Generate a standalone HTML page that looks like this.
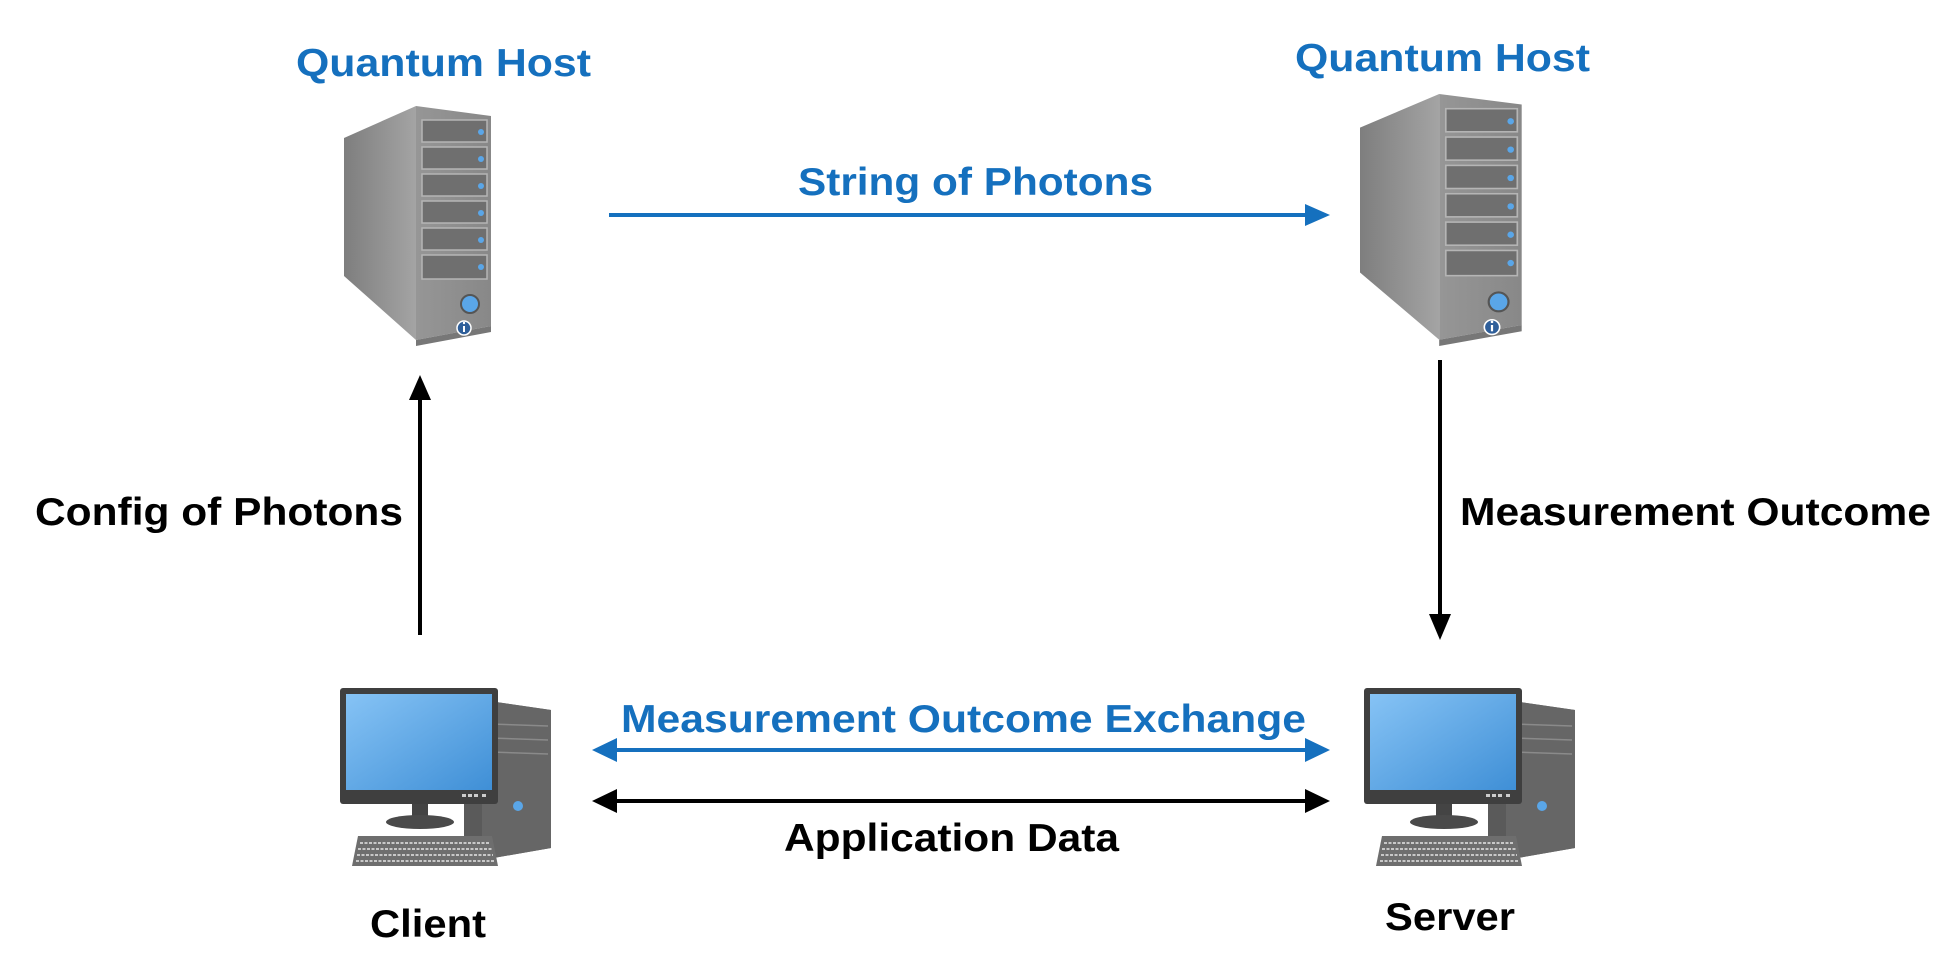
<!DOCTYPE html>
<html><head><meta charset="utf-8"><style>
html,body{margin:0;padding:0;background:#fff;}
svg{display:block;}
text{font-family:"Liberation Sans",Arial,sans-serif;font-weight:bold;}
</style></head><body>
<svg width="1960" height="964" viewBox="0 0 1960 964" xmlns="http://www.w3.org/2000/svg">
<defs>
<linearGradient id="side" x1="0" x2="1" y1="0" y2="0"><stop offset="0" stop-color="#7e7e7e"/><stop offset="1" stop-color="#a4a4a4"/></linearGradient>
<linearGradient id="front" x1="0" x2="1"><stop offset="0" stop-color="#969696"/><stop offset="1" stop-color="#888"/></linearGradient>
<linearGradient id="scr" x1="0" y1="0" x2="1" y2="1"><stop offset="0" stop-color="#86c3f5"/><stop offset="1" stop-color="#3f8fd6"/></linearGradient>
<g id="server">
  <polygon points="0,32 72,0 72,234 0,170" fill="url(#side)"/>
  <polygon points="72,0 147,10 147,220 72,234" fill="url(#front)"/>
  <polygon points="72,234 147,220 147,226 72,240" fill="#777"/>
  <g fill="#6f6f6f" stroke="#b5b5b5" stroke-width="1.5">
    <rect x="78" y="14" width="65" height="22"/>
    <rect x="78" y="41" width="65" height="22"/>
    <rect x="78" y="68" width="65" height="22"/>
    <rect x="78" y="95" width="65" height="22"/>
    <rect x="78" y="122" width="65" height="22"/>
    <rect x="78" y="149" width="65" height="24"/>
  </g>
  <g fill="#5aa6e8">
    <circle cx="137" cy="26" r="3"/><circle cx="137" cy="53" r="3"/><circle cx="137" cy="80" r="3"/>
    <circle cx="137" cy="107" r="3"/><circle cx="137" cy="134" r="3"/><circle cx="137" cy="161" r="3"/>
  </g>
  <circle cx="126" cy="198" r="9" fill="#5aa6e8" stroke="#555" stroke-width="2"/>
  <circle cx="120" cy="222" r="7" fill="#2f5f9a" stroke="#fff" stroke-width="1.5"/>
  <rect x="119" y="220" width="2" height="6" fill="#fff"/><circle cx="120" cy="217" r="1.2" fill="#fff"/>
</g>
<g id="pc">
  <polygon points="124,16 142,12 211,22 211,160 142,172 124,164" fill="#5a5a5a"/>
  <polygon points="142,12 211,22 211,160 142,172" fill="#666"/>
  <g stroke="#8a8a8a" stroke-width="1.5"><line x1="150" y1="36" x2="208" y2="38"/><line x1="150" y1="50" x2="208" y2="52"/><line x1="150" y1="64" x2="208" y2="66"/></g>
  <circle cx="178" cy="118" r="5" fill="#5aa6e8"/>
  <rect x="72" y="114" width="16" height="18" fill="#444"/>
  <ellipse cx="80" cy="134" rx="34" ry="7" fill="#4a4a4a"/>
  <rect x="0" y="0" width="158" height="116" rx="3" fill="#3f3f3f"/>
  <rect x="6" y="6" width="146" height="96" fill="url(#scr)"/>
  <g fill="#ccc"><rect x="122" y="106" width="4" height="3"/><rect x="128" y="106" width="4" height="3"/><rect x="134" y="106" width="4" height="3"/><rect x="142" y="106" width="4" height="3"/></g>
  <polygon points="18,148 152,148 158,178 12,178" fill="#6e6e6e"/>
  <g stroke="#c8c8c8" stroke-width="2" stroke-dasharray="3 1.5">
    <line x1="20" y1="155" x2="150" y2="155"/><line x1="18" y1="161" x2="152" y2="161"/><line x1="17" y1="167" x2="153" y2="167"/><line x1="16" y1="173" x2="154" y2="173"/>
  </g>
</g>
</defs>

<use href="#server" transform="translate(344,106)"/>
<use href="#server" transform="translate(1360,94) scale(1.1,1.05)"/>
<use href="#pc" transform="translate(340,688)"/>
<use href="#pc" transform="translate(1364,688)"/>

<g font-size="39">
<text x="296" y="76" fill="#1570be" textLength="295" lengthAdjust="spacingAndGlyphs">Quantum Host</text>
<text x="1295" y="71" fill="#1570be" textLength="295" lengthAdjust="spacingAndGlyphs">Quantum Host</text>
<text x="798" y="195" fill="#1570be" textLength="355" lengthAdjust="spacingAndGlyphs">String of Photons</text>
<text x="35" y="525" fill="#000" textLength="368" lengthAdjust="spacingAndGlyphs">Config of Photons</text>
<text x="1460" y="525" fill="#000" textLength="471" lengthAdjust="spacingAndGlyphs">Measurement Outcome</text>
<text x="621" y="732" fill="#1570be" textLength="685" lengthAdjust="spacingAndGlyphs">Measurement Outcome Exchange</text>
<text x="784" y="851" fill="#000" textLength="335" lengthAdjust="spacingAndGlyphs">Application Data</text>
<text x="370" y="937" fill="#000" textLength="116" lengthAdjust="spacingAndGlyphs">Client</text>
<text x="1385" y="930" fill="#000" textLength="130" lengthAdjust="spacingAndGlyphs">Server</text>
</g>

<line x1="609" y1="215" x2="1308" y2="215" stroke="#1570be" stroke-width="4"/>
<polygon points="1330,215 1305,204 1305,226" fill="#1570be"/>
<line x1="420" y1="635" x2="420" y2="395" stroke="#000" stroke-width="4"/>
<polygon points="420,375 409,400 431,400" fill="#000"/>
<line x1="1440" y1="360" x2="1440" y2="618" stroke="#000" stroke-width="4"/>
<polygon points="1440,640 1429,614 1451,614" fill="#000"/>
<line x1="610" y1="750" x2="1310" y2="750" stroke="#1570be" stroke-width="4"/>
<polygon points="592,750 617,738 617,762" fill="#1570be"/>
<polygon points="1330,750 1305,738 1305,762" fill="#1570be"/>
<line x1="610" y1="801" x2="1310" y2="801" stroke="#000" stroke-width="4"/>
<polygon points="592,801 617,789 617,813" fill="#000"/>
<polygon points="1330,801 1305,789 1305,813" fill="#000"/>
</svg>
</body></html>
